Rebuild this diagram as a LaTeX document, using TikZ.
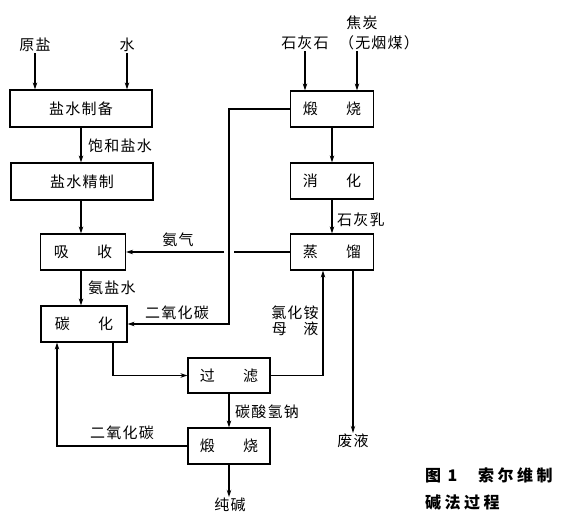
\documentclass[tikz,border=0pt]{standalone}
\usepackage{fontspec}
\setmainfont[LetterSpace=8]{Noto Sans CJK SC}
\newfontfamily\capfont[LetterSpace=22]{Noto Sans CJK SC}
\usetikzlibrary{arrows.meta}
\begin{document}
\begin{tikzpicture}[x=1pt,y=-1pt,
  font=\fontsize{15}{17}\selectfont,
  box/.style={draw,line width=1.2pt,minimum width=83pt,minimum height=36pt,inner sep=0pt},
  wbox/.style={box,minimum width=142pt,minimum height=37pt},
  lab/.style={inner sep=1pt},
  flow/.style={line width=1.4pt,-{Stealth[length=7pt,width=4.5pt]}},
  plain/.style={line width=1.4pt}]
\useasboundingbox (0,0) rectangle (579,532);
% boxes
\node[wbox] (A) at (81,108.5) {盐水制备};
\node[wbox] (B) at (82,181.5) {盐水精制};
\node[box,minimum width=85pt] (C) at (83,252) {吸\hspace{1.9em}收};
\node[box,minimum width=86pt] (D) at (84,324) {碳\hspace{1.9em}化};
\node[box] (E) at (332,109) {煅\hspace{1.9em}烧};
\node[box] (F) at (332,181) {消\hspace{1.9em}化};
\node[box] (G) at (332,252) {蒸\hspace{1.9em}馏};
\node[box,minimum width=82pt,minimum height=35pt] (H) at (229,375.5) {过\hspace{1.9em}滤};
\node[box,minimum width=82pt] (I) at (229,446) {煅\hspace{1.9em}烧};
% inputs / outputs
\node[lab] (yy) at (35,45) {原盐};
\node[lab] (sh) at (127,45) {水};
\node[lab] (jt) at (362,23) {焦炭};
\node[lab] (hs) at (305,43) {石灰石};
\node[lab] (wy) at (379,43) {（无烟煤）};
\node[lab] (cj) at (230,505) {纯碱};
\node[lab] (fy) at (353,441) {废液};
% helper coordinates
\coordinate (lx) at (81,0);
\coordinate (wyx) at (357,0);
\coordinate (v1) at (229,0);
\coordinate (gR) at (234,252);
\coordinate (gL) at (224,252);
\coordinate (dx) at (113,0);
\coordinate (dx2) at (57,0);
\coordinate (gx1) at (323,0);
\coordinate (gx2) at (353,0);
% connectors
\draw[flow] (yy.south) -- (yy.south |- A.north);
\draw[flow] (sh.south) -- (sh.south |- A.north);
\draw[flow] (hs.south) -- (hs.south |- E.north);
\draw[flow] (wy.south -| wyx) -- (wyx |- E.north);
\draw[flow] (lx |- A.south) -- (lx |- B.north);
\draw[flow] (lx |- B.south) -- (lx |- C.north);
\draw[flow] (lx |- C.south) -- (lx |- D.north);
\draw[flow] (E.south) -- (F.north);
\draw[flow] (F.south) -- (G.north);
\draw[flow] (E.west) -| (v1 |- D.east) -- (D.east);
\draw[plain] (G.west) -- (gR);
\draw[flow] (gL) -- (C.east);
\draw[flow] (dx |- D.south) |- (H.west);
\draw[flow] (H.east) -| (gx1 |- G.south);
\draw[flow] (H.south) -- (I.north);
\draw[flow] (I.west) -| (dx2 |- D.south);
\draw[flow] (I.south) -- (I.south |- cj.north);
\draw[flow] (gx2 |- G.south) -- (gx2 |- fy.north);
% connector labels
\node[lab,anchor=west] (l1) at (87,146) {饱和盐水};
\node[lab,anchor=west] (l2) at (87,288) {氨盐水};
\node[lab] (l3) at (178,240) {氨气};
\node[lab] (l4) at (177,313) {二氧化碳};
\node[lab,anchor=west] (l5) at (336,220) {石灰乳};
\node[lab,align=center] (l6) at (295,321) {氯化铵\\[-1pt]母\hspace{1.1em}液};
\node[lab,anchor=west] (l7) at (234,412) {碳酸氢钠};
\node[lab] (l8) at (122,433) {二氧化碳};
% caption
\node[lab,anchor=west,align=left,font=\capfont\bfseries\fontsize{16}{27}\selectfont] (cap) at (424,489) {图\hspace{0.4em}1\hspace{1.3em}索尔维制\\碱法过程};
\end{tikzpicture}
\end{document}
